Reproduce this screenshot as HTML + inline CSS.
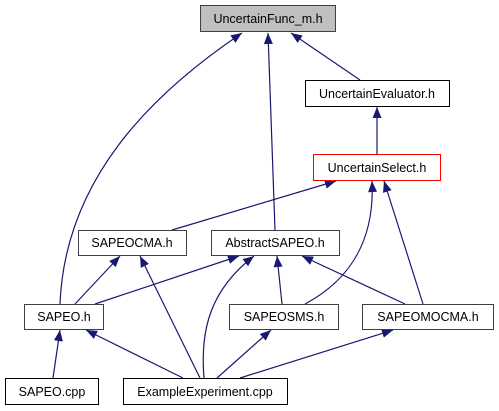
<!DOCTYPE html>
<html><head><meta charset="utf-8"><style>
body{margin:0;background:#fff;}
svg{display:block;font-family:"Liberation Sans",Helvetica,sans-serif;}
text{font-size:12.5px;fill:#000;}
</style></head><body>
<svg width="499" height="411" viewBox="0 0 499 411">
<defs>
<marker id="ah" markerWidth="12" markerHeight="10" refX="11" refY="5" orient="auto-start-reverse" markerUnits="userSpaceOnUse" style="overflow:visible">
<path d="M0,0.5 L11,5 L0,9.5 Z" fill="#191970"/>
</marker>
</defs>
<g fill="none" stroke="#191970" stroke-width="1.2" marker-start="url(#ah)">
<path d="M242,33 C150,95 65,180 60,304"/>
<path d="M268,33 L275,230"/>
<path d="M291,33 L360,80"/>
<path d="M377,107 L377,154"/>
<path d="M336,181 L172,230"/>
<path d="M372,181 C375,240 350,280 305,304"/>
<path d="M384,181 L423,304"/>
<path d="M120,256 L75,304"/>
<path d="M239,256 L95,304"/>
<path d="M140,256 L200,378"/>
<path d="M254,256 C210,290 200,330 204,378"/>
<path d="M277,256 L282,304"/>
<path d="M302,256 L405,304"/>
<path d="M86,330 L183,378"/>
<path d="M271,330 L217,378"/>
<path d="M393,330 L240,378"/>
<path d="M60,330 L53,378"/>
</g>
<g stroke-width="1" text-anchor="middle">
<g><rect x="200.5" y="5.5" width="135" height="26" fill="#bfbfbf" stroke="#404040"/><text x="268" y="23">UncertainFunc_m.h</text></g>
<g><rect x="305.5" y="80.5" width="144" height="26" fill="#fff" stroke="#000"/><text x="377" y="98">UncertainEvaluator.h</text></g>
<g><rect x="313.5" y="154.5" width="127" height="26" fill="#fff" stroke="#ff0000"/><text x="377" y="172">UncertainSelect.h</text></g>
<g><rect x="78.5" y="230.5" width="108" height="25" fill="#fff" stroke="#404040"/><text x="132" y="247">SAPEOCMA.h</text></g>
<g><rect x="211.5" y="230.5" width="128" height="25" fill="#fff" stroke="#404040"/><text x="275" y="247">AbstractSAPEO.h</text></g>
<g><rect x="24.5" y="304.5" width="79" height="25" fill="#fff" stroke="#404040"/><text x="64" y="321">SAPEO.h</text></g>
<g><rect x="229.5" y="304.5" width="109" height="25" fill="#fff" stroke="#404040"/><text x="284" y="321">SAPEOSMS.h</text></g>
<g><rect x="362.5" y="304.5" width="131" height="25" fill="#fff" stroke="#404040"/><text x="428" y="321">SAPEOMOCMA.h</text></g>
<g><rect x="5.5" y="378.5" width="93" height="26" fill="#fff" stroke="#000"/><text x="52" y="396">SAPEO.cpp</text></g>
<g><rect x="123.5" y="378.5" width="164" height="26" fill="#fff" stroke="#000"/><text x="205" y="396">ExampleExperiment.cpp</text></g>
</g>
</svg>
</body></html>
